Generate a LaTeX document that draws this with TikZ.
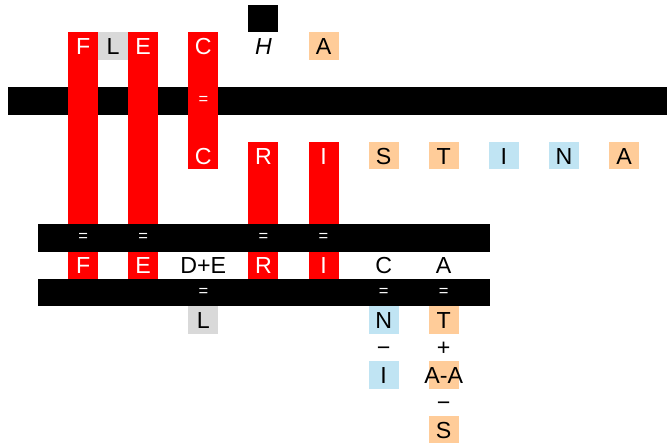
\documentclass[tikz,border=0pt]{standalone}
\usepackage{fontspec}
\setmainfont{Liberation Sans}
\definecolor{cellred}{RGB}{255,0,0}
\definecolor{cellgray}{RGB}{217,217,217}
\definecolor{cellpeach}{RGB}{255,204,153}
\definecolor{cellblue}{RGB}{192,228,243}
\tikzset{
  lettercell/.style={rectangle, inner sep=0pt, minimum width=30.05pt, minimum height=27.4pt,
    font=\fontsize{23.2}{24}\selectfont, text height=16.6pt, text depth=0pt},
  redcell/.style={lettercell, fill=cellred, text=white},
  graycell/.style={lettercell, fill=cellgray},
  peachcell/.style={lettercell, fill=cellpeach},
  bluecell/.style={lettercell, fill=cellblue},
  whitecell/.style={lettercell, fill=white},
  plaincell/.style={lettercell},
  blackcell/.style={rectangle, inner sep=0pt, minimum width=30.05pt, minimum height=27.4pt, fill=black},
  eqsign/.style={inner sep=0pt, text=white, font=\fontsize{16.5}{16.5}\selectfont},
  barfill/.style={fill=black},
  colfill/.style={fill=cellred},
}
\begin{document}
\begin{tikzpicture}[x=30.05pt,y=-27.4pt]
\useasboundingbox (-0.2662,-0.1825) rectangle (21.93,15.985);
% top black cell
\node[blackcell] (topblack) at (8.5,0.5) {};
% big bar
\fill[barfill] (0,3) rectangle (21.93,4);
% red columns
\fill[colfill] (2,1) rectangle (3,10);
\fill[colfill] (4,1) rectangle (5,10);
\fill[colfill] (6,1) rectangle (7,6);
\fill[colfill] (8,5) rectangle (9,10);
\fill[colfill] (10,5) rectangle (11,10);
% lower bars
\fill[barfill] (1,8) rectangle (16.04,9);
\fill[barfill] (1,10) rectangle (16.04,11);
% equal signs
\node[eqsign] (eqa) at (6.5,3.5) {=};
\node[eqsign] (eqb) at (2.5,8.5) {=};
\node[eqsign] (eqc) at (4.5,8.5) {=};
\node[eqsign] (eqd) at (8.5,8.5) {=};
\node[eqsign] (eqe) at (10.5,8.5) {=};
\node[eqsign] (eqf) at (6.5,10.5) {=};
\node[eqsign] (eqg) at (12.5,10.5) {=};
\node[eqsign] (eqh) at (14.5,10.5) {=};
% row 1
\node[redcell] (r1f) at (2.5,1.5) {F};
\node[graycell] (r1l) at (3.5,1.5) {L};
\node[redcell] (r1e) at (4.5,1.5) {E};
\node[redcell] (r1c) at (6.5,1.5) {C};
\node[plaincell] (r1h) at (8.5,1.5) {\itshape H};
\node[peachcell] (r1a) at (10.5,1.5) {A};
% row 5
\node[redcell] (r5c) at (6.5,5.5) {C};
\node[redcell] (r5r) at (8.5,5.5) {R};
\node[redcell] (r5i) at (10.5,5.5) {I};
\node[peachcell] (r5s) at (12.5,5.5) {S};
\node[peachcell] (r5t) at (14.5,5.5) {T};
\node[bluecell] (r5i2) at (16.5,5.5) {I};
\node[bluecell] (r5n) at (18.5,5.5) {N};
\node[peachcell] (r5a) at (20.5,5.5) {A};
% row 9
\node[redcell] (r9f) at (2.5,9.5) {F};
\node[redcell] (r9e) at (4.5,9.5) {E};
\node[plaincell] (r9de) at (6.5,9.5) {D+E};
\node[redcell] (r9r) at (8.5,9.5) {R};
\node[redcell] (r9i) at (10.5,9.5) {I};
\node[whitecell] (r9c) at (12.5,9.5) {C};
\node[whitecell] (r9a) at (14.5,9.5) {A};
% row 11
\node[graycell] (r11l) at (6.5,11.5) {L};
\node[bluecell] (r11n) at (12.5,11.5) {N};
\node[peachcell] (r11t) at (14.5,11.5) {T};
% row 12
\node[plaincell] (r12m) at (12.5,12.5) {\symbol{"2212}};
\node[plaincell] (r12p) at (14.5,12.5) {+};
% row 13
\node[bluecell] (r13i) at (12.5,13.5) {I};
\fill[cellpeach] (14,13) rectangle (15,14);
\node[plaincell] (r13aa) at (14.5,13.5) {A-A};
% row 14
\node[plaincell] (r14m) at (14.5,14.5) {\symbol{"2212}};
% row 15
\node[peachcell] (r15s) at (14.5,15.5) {S};
\end{tikzpicture}
\end{document}
